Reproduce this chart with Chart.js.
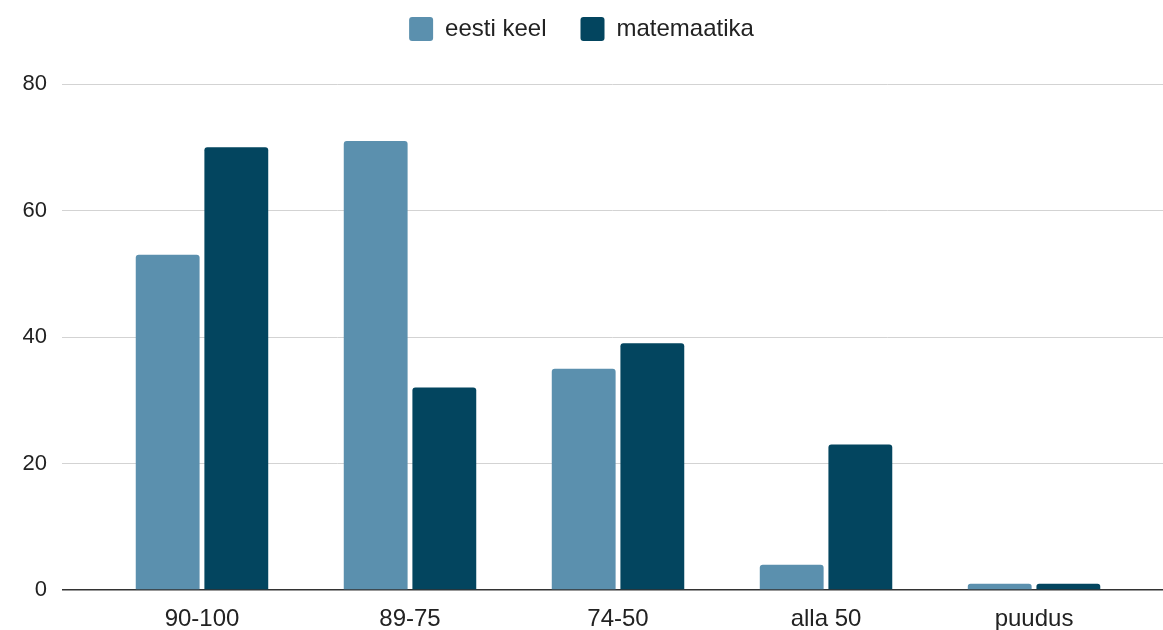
<!DOCTYPE html>
<html>
<head>
<meta charset="utf-8">
<script src="https://cdn.jsdelivr.net/npm/chart.js@4/dist/chart.umd.min.js"></script>
<style>
  html, body { margin: 0; padding: 0; background: #fff; }
  #wrap { width: 1163px; height: 630px; }
</style>
</head>
<body>
<div id="wrap"><canvas id="chart"></canvas></div>
<script>
const categories = ["90-100", "89-75", "74-50", "alla 50", "puudus"];
const eestiKeel = [53, 71, 35, 4, 1];
const matemaatika = [70, 32, 39, 23, 1];
const yTicks = [0, 20, 40, 60, 80];

const font = "'Liberation Sans', Arial, sans-serif";

// bars sit on a linear index axis so the plot (and its grid) can run wider than the groups
const toPoints = vals => vals.map((v, i) => ({ x: i, y: v }));

// fixed legend band height, and legend drawn a bit higher than its padding would put it
const legendSpace = {
  id: "legendSpace",
  beforeInit(chart) {
    const fit = chart.legend.fit;
    chart.legend.fit = function () {
      fit.call(this);
      this.height = 84;
    };
  },
  afterLayout(chart) {
    chart.legend.top = -17;
  }
};

new Chart(document.getElementById("chart"), {
  type: "bar",
  data: {
    datasets: [{
      label: "eesti keel",
      data: toPoints(eestiKeel),
      backgroundColor: "#5b90ae",
      borderRadius: { topLeft: 3, topRight: 3 },
      borderSkipped: "start",
      categoryPercentage: 0.66,
      barPercentage: 0.93
    }, {
      label: "matemaatika",
      data: toPoints(matemaatika),
      backgroundColor: "#03455f",
      borderRadius: { topLeft: 3, topRight: 3 },
      borderSkipped: "start",
      categoryPercentage: 0.66,
      barPercentage: 0.93
    }]
  },
  plugins: [legendSpace],
  options: {
    responsive: true,
    maintainAspectRatio: false,
    animation: false,
    layout: { padding: 0 },
    plugins: {
      tooltip: { enabled: false },
      legend: {
        position: "top",
        labels: {
          font: { family: font, size: 24 },
          color: "#222",
          boxWidth: 24,
          boxHeight: 24,
          padding: 34,
          useBorderRadius: true,
          borderRadius: 3
        }
      }
    },
    scales: {
      x: {
        type: "linear",
        offset: false,
        min: -0.673,
        max: 4.62,
        afterBuildTicks: s => { s.ticks = categories.map((_, i) => ({ value: i })); },
        afterFit: s => { s.height = 40; },
        grid: { display: false, offset: false },
        border: { display: false },
        ticks: {
          autoSkip: false,
          maxRotation: 0,
          padding: 7,
          color: "#222",
          font: { family: font, size: 24 },
          callback: v => categories[v]
        }
      },
      y: {
        min: 0,
        max: 80,
        afterBuildTicks: s => { s.ticks = yTicks.map(v => ({ value: v })); },
        afterFit: s => { s.width = 62; },
        border: { display: false },
        grid: {
          color: c => c.tick && c.tick.value === 0 ? "#333" : "#d3d3d3",
          lineWidth: c => c.tick && c.tick.value === 0 ? 1.5 : 1,
          drawTicks: false
        },
        ticks: {
          padding: 15,
          color: "#222",
          font: { family: font, size: 22 }
        }
      }
    }
  }
});
</script>
</body>
</html>
